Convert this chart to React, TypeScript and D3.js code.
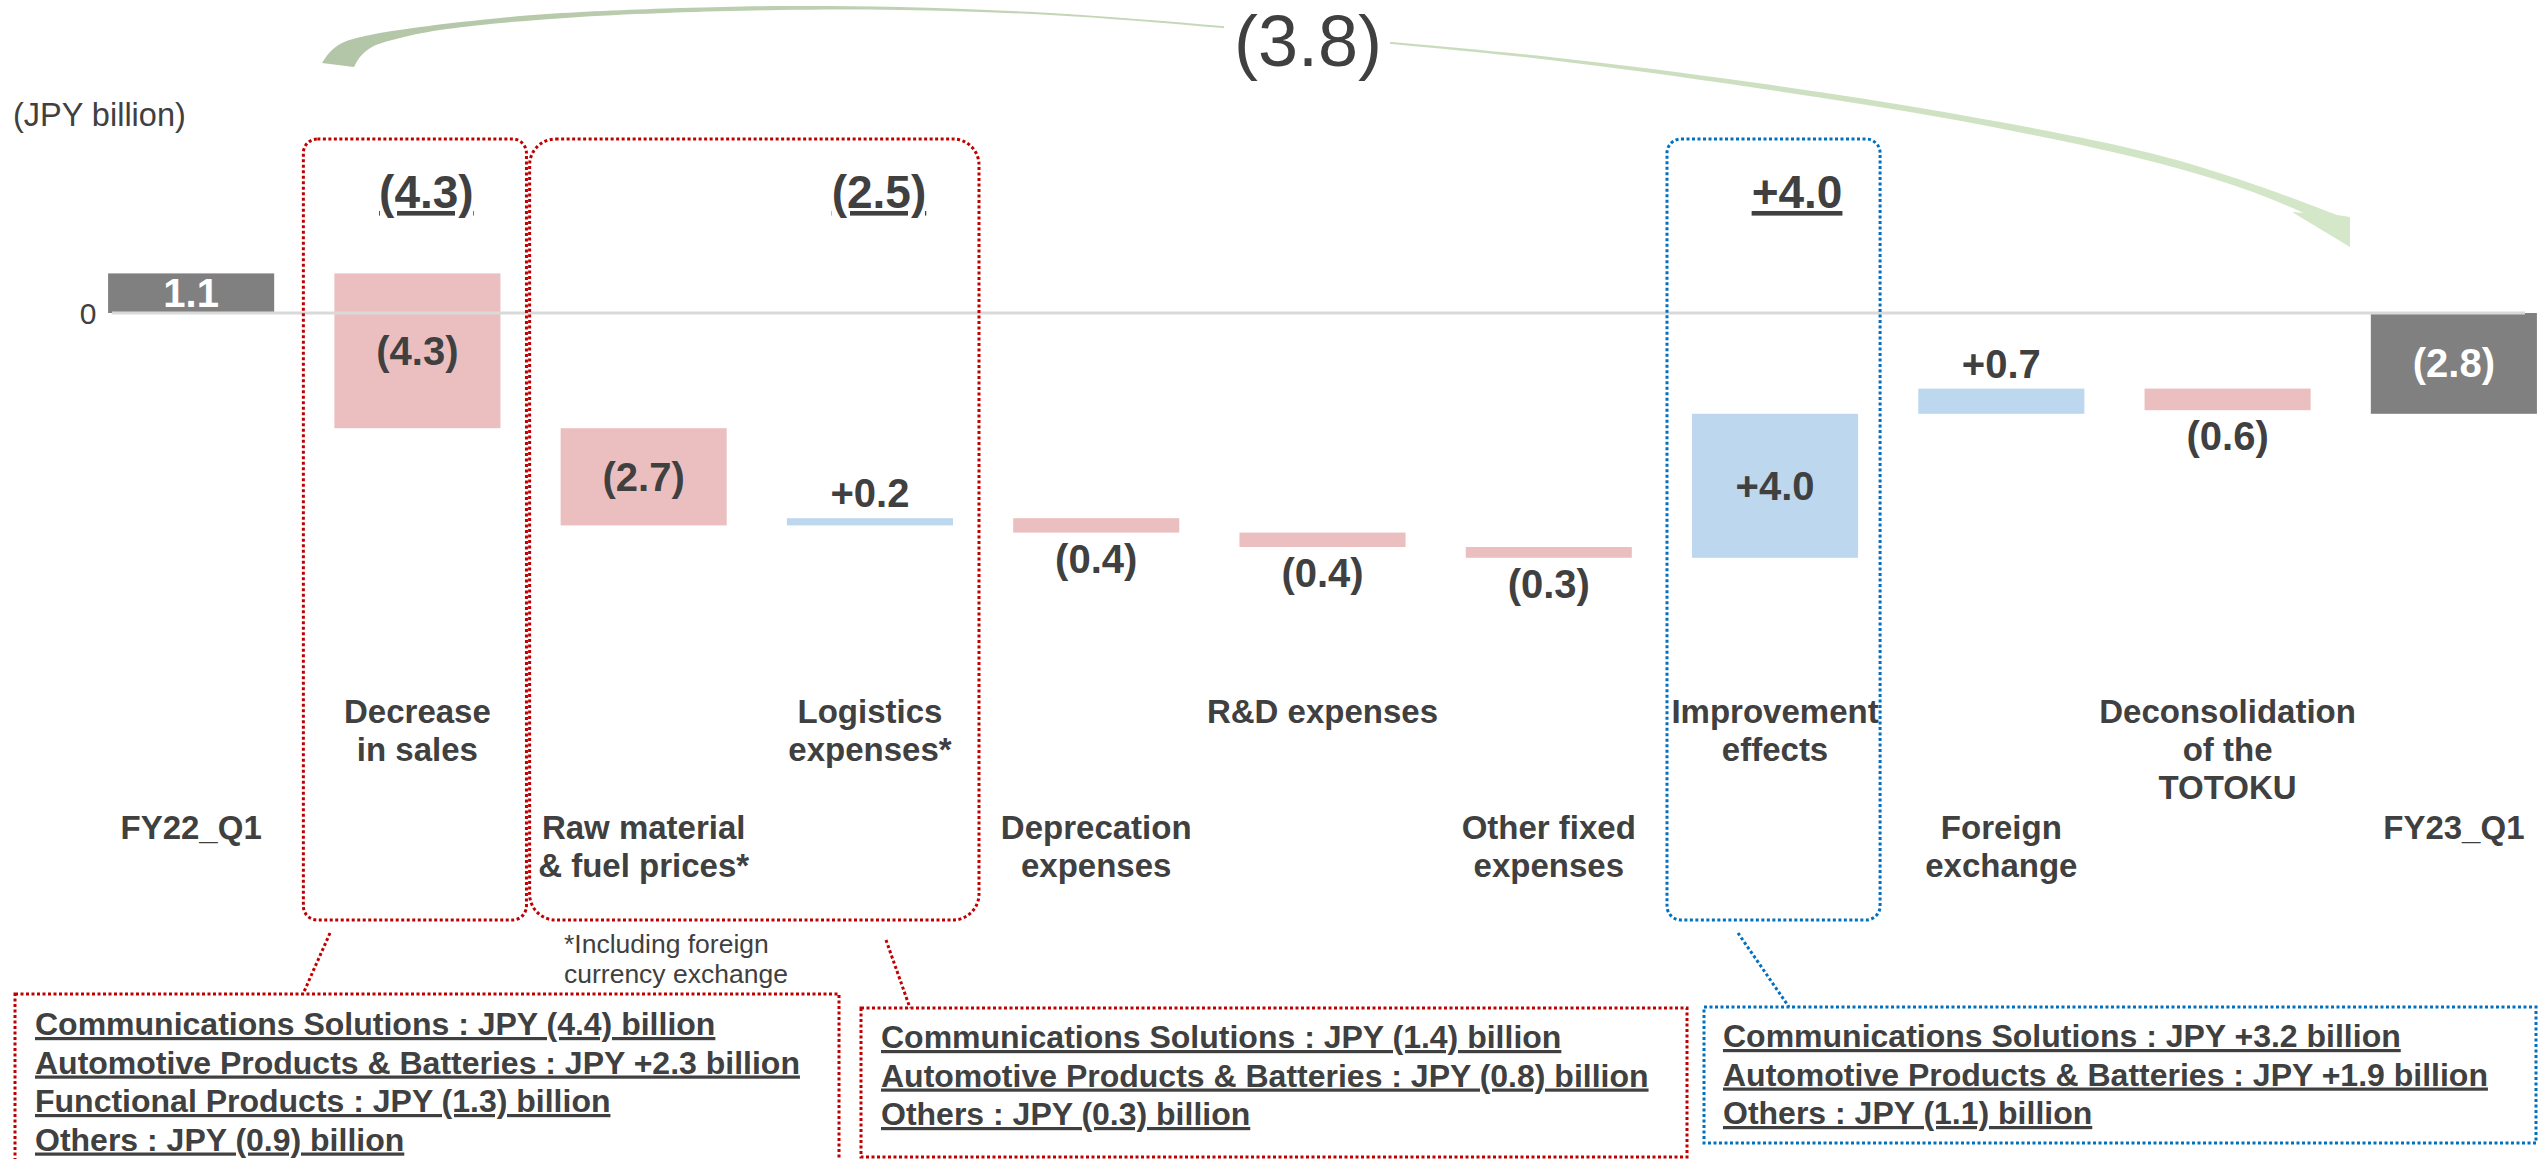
import React from "react";
import * as d3 from "d3";

// ---------- data ----------
const categories = [
  "FY22_Q1",
  "Decrease in sales",
  "Raw material & fuel prices*",
  "Logistics expenses*",
  "Deprecation expenses",
  "R&D expenses",
  "Other fixed expenses",
  "Improvement effects",
  "Foreign exchange",
  "Deconsolidation of the TOTOKU",
  "FY23_Q1",
];
const categoryLines = [
  ["FY22_Q1"],
  ["Decrease", "in sales"],
  ["Raw material", "& fuel prices*"],
  ["Logistics", "expenses*"],
  ["Deprecation", "expenses"],
  ["R&D expenses"],
  ["Other fixed", "expenses"],
  ["Improvement", "effects"],
  ["Foreign", "exchange"],
  ["Deconsolidation", "of the", "TOTOKU"],
  ["FY23_Q1"],
];
const values = [1.1, -4.3, -2.7, 0.2, -0.4, -0.4, -0.3, 4.0, 0.7, -0.6, -2.8];
const isTotal = [true, false, false, false, false, false, false, false, false, false, true];
const valueLabels = ["1.1", "(4.3)", "(2.7)", "+0.2", "(0.4)", "(0.4)", "(0.3)", "+4.0", "+0.7", "(0.6)", "(2.8)"];
const yTicks = [0];
const unitLabel = "(JPY billion)";
const totalChangeLabel = "(3.8)";

const groupLabels = ["(4.3)", "(2.5)", "+4.0"];
const groupFirst = [1, 2, 7];
const groupLast = [1, 3, 7];
const groupKind = ["red", "red", "blue"];

const detailA = [
  "Communications Solutions : JPY (4.4) billion",
  "Automotive Products & Batteries : JPY +2.3 billion",
  "Functional Products : JPY (1.3) billion",
  "Others : JPY (0.9) billion",
];
const detailB = [
  "Communications Solutions : JPY (1.4) billion",
  "Automotive Products & Batteries : JPY (0.8) billion",
  "Others : JPY (0.3) billion",
];
const detailC = [
  "Communications Solutions : JPY +3.2 billion",
  "Automotive Products & Batteries : JPY +1.9 billion",
  "Others : JPY (1.1) billion",
];
const footnote = ["*Including foreign", "currency exchange"];

// ---------- styles ----------
const W = 2539;
const H = 1159;
const FONT = "'Liberation Sans', Arial, Helvetica, sans-serif";
const TEXT = "#404040";
const GRAY = "#808080";
const RED = "#ebbfc0";
const BLUE = "#bdd7ee";
const RED_LINE = "#c00000";
const BLUE_LINE = "#0070c0";

export default function App() {
  const x = d3
    .scaleBand<string>()
    .domain(categories)
    .range([78, 2567])
    .paddingInner(0.266)
    .paddingOuter(0.133);
  const y = d3.scaleLinear().domain([-7, 2]).range([313 + 252, 313 - 72]);
  const bw = x.bandwidth();

  // waterfall
  let run = 0;
  const bars = categories.map((c, i) => {
    let v0: number, v1: number;
    if (isTotal[i]) {
      v0 = 0;
      v1 = values[i];
      run = values[i];
    } else {
      v0 = run;
      v1 = run + values[i];
      run = v1;
    }
    const top = y(Math.max(v0, v1));
    const bot = y(Math.min(v0, v1));
    const color = isTotal[i] ? GRAY : values[i] < 0 ? RED : BLUE;
    return { c, i, x: x(c)!, top, bot, color, v: values[i] };
  });

  // arrow (decorative curved arrow)
  const upper: [number, number][] = [
    [322, 63], [330, 52], [342, 43], [370, 35], [413, 28], [480, 20], [547, 14],
    [680, 8], [780, 6], [900, 7], [1050, 13], [1222, 26], [1392, 42], [1550, 57],
    [1750, 82], [1950, 113], [2150, 153], [2250, 183], [2337, 215],
  ];
  const lower: [number, number][] = [
    [354, 67], [360, 57], [372, 47], [400, 38], [447, 29], [580, 17], [780, 10],
    [900, 10], [1050, 15], [1222, 28], [1392, 44], [1550, 60], [1750, 87],
    [1950, 119], [2150, 161], [2250, 191], [2304, 213],
  ];
  const ln = d3.line().curve(d3.curveCatmullRom.alpha(0.5));
  const arrowD =
    ln(upper) +
    "L2350,217L2350,247L2292,212" +
    (ln([...lower].reverse()) as string).replace(/^M/, "L") +
    "Z";

  const zeroY = y(0);

  const boxTop = 139;
  const boxBot = 920;

  const detailBox = (
    lines: string[],
    bx: number,
    by: number,
    bwid: number,
    bh: number,
    stroke: string,
    tx: number,
    ty: number
  ) => (
    <g>
      <rect x={bx} y={by} width={bwid} height={bh} fill="none" stroke={stroke} strokeWidth={3} strokeDasharray="3,2.5" />
      {lines.map((l, k) => (
        <text
          key={k}
          x={tx}
          y={ty + k * 38.5}
          fontFamily={FONT}
          fontWeight="bold"
          fontSize={32}
          fill={TEXT}
          style={{ textDecoration: "underline" }}
        >
          {l}
        </text>
      ))}
    </g>
  );

  return (
    <>
      <style>{"body{margin:0;}"}</style>
      <svg width={W} height={H} style={{ display: "block" }} fontFamily={FONT}>
        <defs>
          <linearGradient id="arrowGrad" gradientUnits="userSpaceOnUse" x1={322} y1={0} x2={2350} y2={0}>
            <stop offset="0" stopColor="#b2c5a6" />
            <stop offset="0.45" stopColor="#c6d9ba" />
            <stop offset="1" stopColor="#d4e7c8" />
          </linearGradient>
        </defs>
        <rect x={0} y={0} width={W} height={H} fill="#ffffff" />

        {/* curved arrow and total change */}
        <path d={arrowD} fill="url(#arrowGrad)" />
        <rect x={1224} y={2} width={166} height={84} fill="#ffffff" />
        <text x={1308} y={66} textAnchor="middle" fontSize={72} fill={TEXT}>
          {totalChangeLabel}
        </text>

        {/* unit */}
        <text x={13} y={126} fontSize={32.5} fill={TEXT}>
          {unitLabel}
        </text>

        {/* y tick */}
        {yTicks.map((t) => (
          <text key={t} x={88} y={y(t) + 11} textAnchor="middle" fontSize={30} fill={TEXT}>
            {t}
          </text>
        ))}

        {/* bars */}
        {bars.map((b) => (
          <rect key={b.c} x={b.x} y={b.top} width={bw} height={Math.max(1, b.bot - b.top)} fill={b.color} />
        ))}

        {/* zero line */}
        <line x1={112} x2={2525} y1={zeroY} y2={zeroY} stroke="#d9d9d9" strokeWidth={3} />

        {/* value labels */}
        {bars.map((b) => {
          const inside = Math.abs(b.v) >= 1;
          let ty: number;
          if (inside) ty = (b.top + b.bot) / 2 + 14;
          else if (b.v > 0) ty = b.top - 11;
          else ty = b.bot + 40;
          const fill = inside && isTotal[b.i] ? "#ffffff" : TEXT;
          return (
            <text key={"v" + b.c} x={b.x + bw / 2} y={ty} textAnchor="middle" fontSize={40} fontWeight="bold" fill={fill}>
              {valueLabels[b.i]}
            </text>
          );
        })}

        {/* category labels */}
        {categories.map((c, i) => {
          const base = i % 2 === 1 ? 723 : 839;
          return (
            <text key={"c" + c} textAnchor="middle" fontSize={33} fontWeight="bold" fill={TEXT}>
              {categoryLines[i].map((l, k) => (
                <tspan key={k} x={x(c)! + bw / 2} y={base + k * 38}>
                  {l}
                </tspan>
              ))}
            </text>
          );
        })}

        {/* group boxes */}
        {groupLabels.map((g, k) => {
          const blue = groupKind[k] === "blue";
          const x0 = x(categories[groupFirst[k]])! - (blue ? 25 : 31);
          const x1 = x(categories[groupLast[k]])! + bw + (blue ? 22 : 26);
          const stroke = blue ? BLUE_LINE : RED_LINE;
          const r = groupFirst[k] === groupLast[k] ? 14 : 26;
          const cx = x(categories[groupLast[k]])! + bw / 2 + (blue ? 22 : 9);
          return (
            <g key={"g" + k}>
              <rect x={x0} y={boxTop} width={x1 - x0} height={boxBot - boxTop} rx={r} ry={r} fill="none" stroke={stroke} strokeWidth={3} strokeDasharray="3,2.5" />
              <text x={cx} y={208} textAnchor="middle" fontSize={46} fontWeight="bold" fill={TEXT} style={{ textDecoration: "underline" }}>
                {g}
              </text>
            </g>
          );
        })}

        {/* footnote */}
        {footnote.map((f, k) => (
          <text key={"f" + k} x={564} y={953 + k * 30} fontSize={26.5} fill={TEXT}>
            {f}
          </text>
        ))}

        {/* connectors */}
        <line x1={330} y1={933} x2={303} y2={994} stroke={RED_LINE} strokeWidth={3} strokeDasharray="3,2.5" />
        <line x1={886} y1={940} x2={910} y2={1008} stroke={RED_LINE} strokeWidth={3} strokeDasharray="3,2.5" />
        <line x1={1738} y1={933} x2={1789} y2={1007} stroke={BLUE_LINE} strokeWidth={3} strokeDasharray="3,2.5" />

        {/* detail boxes */}
        {detailBox(detailA, 15, 994, 824, 200, RED_LINE, 35, 1035)}
        {detailBox(detailB, 861, 1008, 826, 149, RED_LINE, 881, 1048)}
        {detailBox(detailC, 1704, 1007, 832, 136, BLUE_LINE, 1723, 1047)}
      </svg>
    </>
  );
}
